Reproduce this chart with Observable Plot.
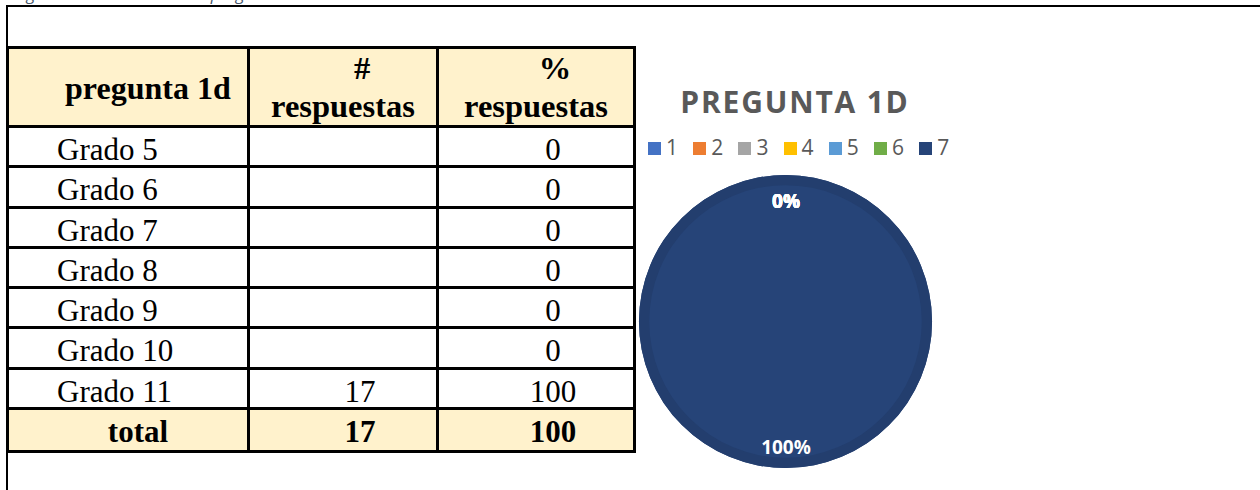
<!DOCTYPE html>
<html><head><meta charset="utf-8">
<script src="https://cdn.jsdelivr.net/npm/d3@7"></script>
<script src="https://cdn.jsdelivr.net/npm/@observablehq/plot@0.6"></script>
<style>
html,body{margin:0;padding:0;background:#fff;}
#root{position:relative;width:1260px;height:490px;overflow:hidden;background:#fff;}
.frame-top{position:absolute;left:6px;top:5px;width:1254px;height:2px;background:#000;}
.frame-left{position:absolute;left:6px;top:5px;width:2px;height:485px;background:#000;}
.caption{position:absolute;left:14px;top:-18px;font:italic 17px "Open Sans";color:#44546A;white-space:nowrap;}
table{position:absolute;left:6px;top:46px;border-collapse:collapse;table-layout:fixed;width:630px;
  font-family:"Liberation Serif";font-size:31px;color:#000;}
td{border:3px solid #000;padding:0;vertical-align:top;overflow:visible;white-space:nowrap;}
tr.head td{background:#FFF2CC;font-weight:bold;height:75.5px;font-size:32.5px;}
tr.body td{height:37.3px;}
tr.total td{background:#FFF2CC;font-weight:bold;height:40px;}
.t{line-height:26px;margin-top:9px;}
.c{text-align:center;padding-left:34px;}
.l{padding-left:48px;}
.h1{line-height:26px;margin-top:26px;padding-left:56px;font-size:32px;}
.h2{line-height:38px;margin-top:0px;text-align:center;}
.h2 .top{position:relative;left:19px;}
.tot{text-align:center;padding-left:20px;}
#title{position:absolute;left:640px;width:310px;top:81px;text-align:center;font:bold 30px "Open Sans";
  letter-spacing:1.8px;color:#595959;}
#legend{position:absolute;left:648px;top:133px;display:flex;font:21px "Open Sans";color:#595959;}
#legend .it{display:flex;align-items:center;width:45.2px;}
#legend .sw{width:13px;height:13px;margin-right:5px;margin-top:3px;}
#pie{position:absolute;left:639px;top:175px;}
</style></head>
<body><div id="root">
<div class="caption">Figura 4. Resultados de la pregunta 1d</div>
<div class="frame-top"></div><div class="frame-left"></div>
<div id="title"></div>
<div id="legend"></div>
<div id="pie"></div>
</div>
<script>
// ---- table data ----
const encabezados = ["pregunta 1d", ["#", "respuestas"], ["%", "respuestas"]];
const grados = ["Grado 5","Grado 6","Grado 7","Grado 8","Grado 9","Grado 10","Grado 11"];
const numRespuestas = [null,null,null,null,null,null,17];
const pctRespuestas = [0,0,0,0,0,0,100];
const etiquetaTotal = "total";
const totalRespuestas = 17;
const totalPct = 100;

// ---- pie data ----
const pieTitulo = "PREGUNTA 1D";
const pieCategorias = ["1","2","3","4","5","6","7"];
const pieValores = [0,0,0,0,0,0,100];
const pieColores = ["#4472C4","#ED7D31","#A5A5A5","#FFC000","#5B9BD5","#70AD47","#264478"];

// ---- build table ----
const root = document.getElementById("root");
const table = document.createElement("table");
const cg = document.createElement("colgroup");
[241,189,197].forEach(w => { const c = document.createElement("col"); c.style.width = w + "px"; cg.appendChild(c); });
table.appendChild(cg);
const head = table.insertRow(); head.className = "head";
head.insertCell().innerHTML = `<div class="h1">${encabezados[0]}</div>`;
head.insertCell().innerHTML = `<div class="h2"><span class="top">${encabezados[1][0]}</span><br>${encabezados[1][1]}</div>`;
head.insertCell().innerHTML = `<div class="h2"><span class="top">${encabezados[2][0]}</span><br>${encabezados[2][1]}</div>`;
grados.forEach((g, i) => {
  const r = table.insertRow(); r.className = "body";
  r.insertCell().innerHTML = `<div class="t l">${g}</div>`;
  r.insertCell().innerHTML = `<div class="t c">${numRespuestas[i] ?? ""}</div>`;
  r.insertCell().innerHTML = `<div class="t c">${pctRespuestas[i]}</div>`;
});
const tr = table.insertRow(); tr.className = "total";
tr.insertCell().innerHTML = `<div class="t tot">${etiquetaTotal}</div>`;
tr.insertCell().innerHTML = `<div class="t c">${totalRespuestas}</div>`;
tr.insertCell().innerHTML = `<div class="t c">${totalPct}</div>`;
root.appendChild(table);

// ---- legend ----
document.getElementById("title").textContent = pieTitulo;
const color = Plot.scale({color: {type: "ordinal", domain: pieCategorias, range: pieColores}});
const lg = document.getElementById("legend");
pieCategorias.forEach(c => {
  const it = document.createElement("div"); it.className = "it";
  it.innerHTML = `<div class="sw" style="background:${color.apply(c)}"></div><span>${c}</span>`;
  lg.appendChild(it);
});

// ---- pie ----
const pieData = pieCategorias.map((c, i) => ({cat: c, value: pieValores[i]}));
const suma = d3.sum(pieValores);
const arcs = d3.pie().sort(null).value(d => d.value)(pieData);
const labelArc = d3.arc().innerRadius(0.84).outerRadius(0.84);
const labels = arcs.map(a => {
  const [x, y] = labelArc.centroid(a);
  return {x, y, label: Math.round(a.value / suma * 100) + "%"};
});

const pieMark = (index, scales) => {
  const cx = scales.x(0), cy = scales.y(0), R = scales.x(1) - scales.x(0);
  const g = d3.create("svg:g").attr("transform", `translate(${cx},${cy})`);
  const full = d3.arc().innerRadius(0).outerRadius(R);
  const ring = d3.arc().innerRadius(R * 0.93).outerRadius(R);
  const shown = arcs.filter(a => a.value > 0);
  g.selectAll("path.s").data(shown).join("path").attr("class", "s")
    .attr("d", full).attr("fill", d => color.apply(d.data.cat));
  g.selectAll("path.r").data(shown).join("path").attr("class", "r")
    .attr("d", ring).attr("fill", d => d3.color(color.apply(d.data.cat)).darker(0.25));
  return g.node();
};

const chart = Plot.plot({
  width: 293, height: 293, margin: 0,
  style: {background: "transparent", overflow: "visible"},
  x: {domain: [-1, 1], axis: null},
  y: {domain: [-1, 1], reverse: true, axis: null},
  marks: [
    pieMark,
    Plot.text(labels, {x: "x", y: "y", text: "label", fill: "white", fontWeight: "bold",
      fontSize: 19, fontFamily: "Open Sans", dy: 3})
  ]
});
document.getElementById("pie").appendChild(chart);
</script>
</body></html>
